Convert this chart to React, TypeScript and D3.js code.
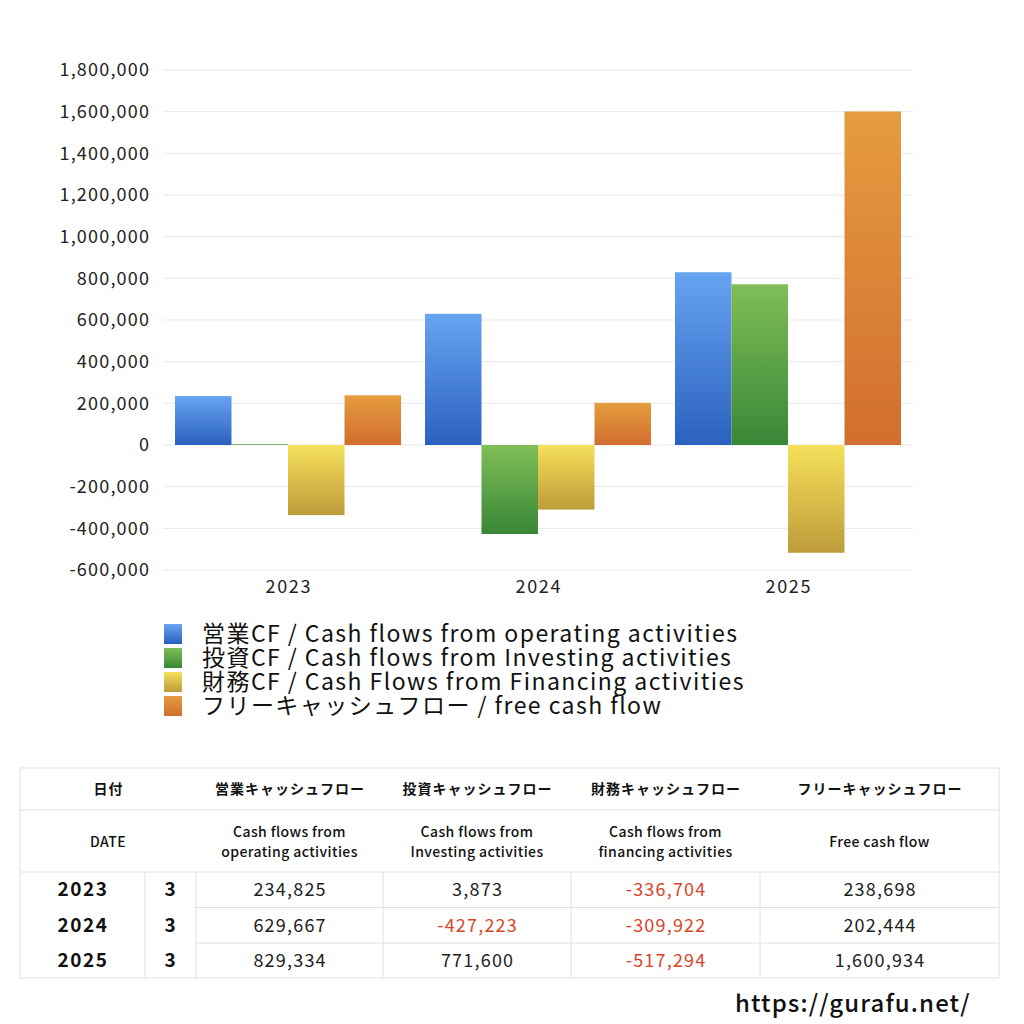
import React from "react";
import * as d3 from "d3";

const years = ["2023", "2024", "2025"];
const months = ["3", "3", "3"];
const seriesKeys = ["op", "inv", "fin", "fcf"];
const legendLabels = [
  "営業CF / Cash flows from operating activities",
  "投資CF / Cash flows from Investing activities",
  "財務CF / Cash Flows from Financing activities",
  "フリーキャッシュフロー / free cash flow",
];
const operating = [234825, 629667, 829334];
const investing = [3873, -427223, 771600];
const financing = [-336704, -309922, -517294];
const freeCash = [238698, 202444, 1600934];
const yTicks = [-600000, -400000, -200000, 0, 200000, 400000, 600000, 800000, 1000000, 1200000, 1400000, 1600000, 1800000];
const headerJa = ["日付", "営業キャッシュフロー", "投資キャッシュフロー", "財務キャッシュフロー", "フリーキャッシュフロー"];
const headerEn = [["DATE"], ["Cash flows from", "operating activities"], ["Cash flows from", "Investing activities"], ["Cash flows from", "financing activities"], ["Free cash flow"]];
const gradTop = ["#67a4f1", "#80be57", "#f6e05a", "#e59c3f"];
const gradBottom = ["#2b61bf", "#388737", "#bd9c3b", "#d26e2f"];

const seriesValues = [operating, investing, financing, freeCash];
const FONT = "'Noto Sans CJK JP', 'Noto Sans', sans-serif";

const locale = d3.formatLocale({ decimal: ".", thousands: ",", grouping: [3], currency: ["", ""], minus: "-" });

export default function App() {
  const fmt = locale.format(",");
  const x = d3.scaleBand().domain(years).range([163, 913]);
  const xs = d3.scaleBand().domain(seriesKeys).range([12, 238]);
  const y = d3.scaleLinear().domain([-600000, 1800000]).range([570, 70]);

  const tL = 20, tR = 999;
  const colX = [20, 145, 196, 383, 571, 760, 999];
  const rowY = [768, 810, 872, 907.5, 943, 978];
  const headerCenters = [108, (196 + 383) / 2, (383 + 571) / 2, (571 + 760) / 2, (760 + 999) / 2];
  const border = "#e0e0e0";

  return (
    <div style={{ position: "absolute", left: 0, top: 0 }}>
      <svg width={1024} height={1024} style={{ display: "block", background: "#fff" }} fontFamily={FONT}>
        <defs>
          {seriesKeys.map((k, i) => (
            <linearGradient key={k} id={`g-${k}`} x1="0" y1="0" x2="0" y2="1">
              <stop offset="0" stopColor={gradTop[i]} />
              <stop offset="1" stopColor={gradBottom[i]} />
            </linearGradient>
          ))}
        </defs>
        {yTicks.map((t) => (
          <g key={t}>
            <line x1={163} x2={913} y1={y(t)} y2={y(t)} stroke="#e8e8e8" strokeWidth={1} />
            <text x={149} dx={1.2} y={y(t)} dy="0.35em" textAnchor="end" fontSize={18} letterSpacing={1.2} fill="#222">
              {fmt(t)}
            </text>
          </g>
        ))}
        {years.map((yr, yi) => (
          <g key={yr} transform={`translate(${x(yr)},0)`}>
            {seriesKeys.map((k, si) => {
              const v = seriesValues[si][yi];
              const y0 = y(Math.max(0, v));
              const h = Math.abs(y(v) - y(0));
              return (
                <rect key={k} x={xs(k)} y={y0} width={xs.bandwidth()} height={Math.max(h, 0.5)} fill={`url(#g-${k})`} />
              );
            })}
            <text x={x.bandwidth() / 2} dx={0.8} y={593} textAnchor="middle" fontSize={18} letterSpacing={1.6} fill="#222">
              {yr}
            </text>
          </g>
        ))}
        {legendLabels.map((lab, i) => (
          <g key={lab} transform={`translate(0,${i * 24})`}>
            <rect x={164} y={624} width={18} height={20} fill={`url(#g-${seriesKeys[i]})`} />
            <text x={202} y={642} fontSize={23} letterSpacing={1.45} fill="#111">
              {lab}
            </text>
          </g>
        ))}
        <rect x={tL} y={rowY[0]} width={tR - tL} height={rowY[5] - rowY[0]} fill="none" stroke={border} />
        <line x1={tL} x2={tR} y1={rowY[1]} y2={rowY[1]} stroke={border} />
        <line x1={tL} x2={tR} y1={rowY[2]} y2={rowY[2]} stroke={border} />
        <line x1={196} x2={tR} y1={rowY[3]} y2={rowY[3]} stroke={border} />
        <line x1={196} x2={tR} y1={rowY[4]} y2={rowY[4]} stroke={border} />
        {colX.slice(1, 6).map((cx) => (
          <line key={cx} x1={cx} x2={cx} y1={rowY[2]} y2={rowY[5]} stroke={border} />
        ))}
        {headerJa.map((h, i) => (
          <text key={h} x={headerCenters[i]} dx={0.5} y={789} dy="0.35em" textAnchor="middle" fontSize={14} letterSpacing={1} fontWeight={700} fill="#111">
            {h}
          </text>
        ))}
        {headerEn.map((lines, i) => (
          <text key={i} textAnchor="middle" fontSize={14} letterSpacing={0.4} fontWeight={500} fill="#111">
            {lines.map((ln, li) => (
              <tspan key={li} x={headerCenters[i]} y={lines.length === 1 ? 842 : 832 + li * 20} dy="0.35em">
                {ln}
              </tspan>
            ))}
          </text>
        ))}
        {years.map((yr, ri) => {
          const cy = (rowY[2 + ri] + rowY[3 + ri]) / 2;
          return (
            <g key={yr}>
              <text x={83} y={cy} dy="0.35em" textAnchor="middle" fontSize={19} letterSpacing={1.5} fontWeight={700} fill="#111">
                {yr}
              </text>
              <text x={170} y={cy} dy="0.35em" textAnchor="middle" fontSize={19} fontWeight={700} fill="#111">
                {months[ri]}
              </text>
              {seriesValues.map((vals, si) => (
                <text key={si} x={headerCenters[si + 1]} dx={0.6} y={cy} dy="0.35em" textAnchor="middle" fontSize={18} letterSpacing={1.2} fill={vals[ri] < 0 ? "#d9452c" : "#222"}>
                  {fmt(vals[ri])}
                </text>
              ))}
            </g>
          );
        })}
        <text x={735} y={1012} fontSize={24} letterSpacing={1.1} fontWeight={500} fill="#111">
          https://gurafu.net/
        </text>
      </svg>
    </div>
  );
}
